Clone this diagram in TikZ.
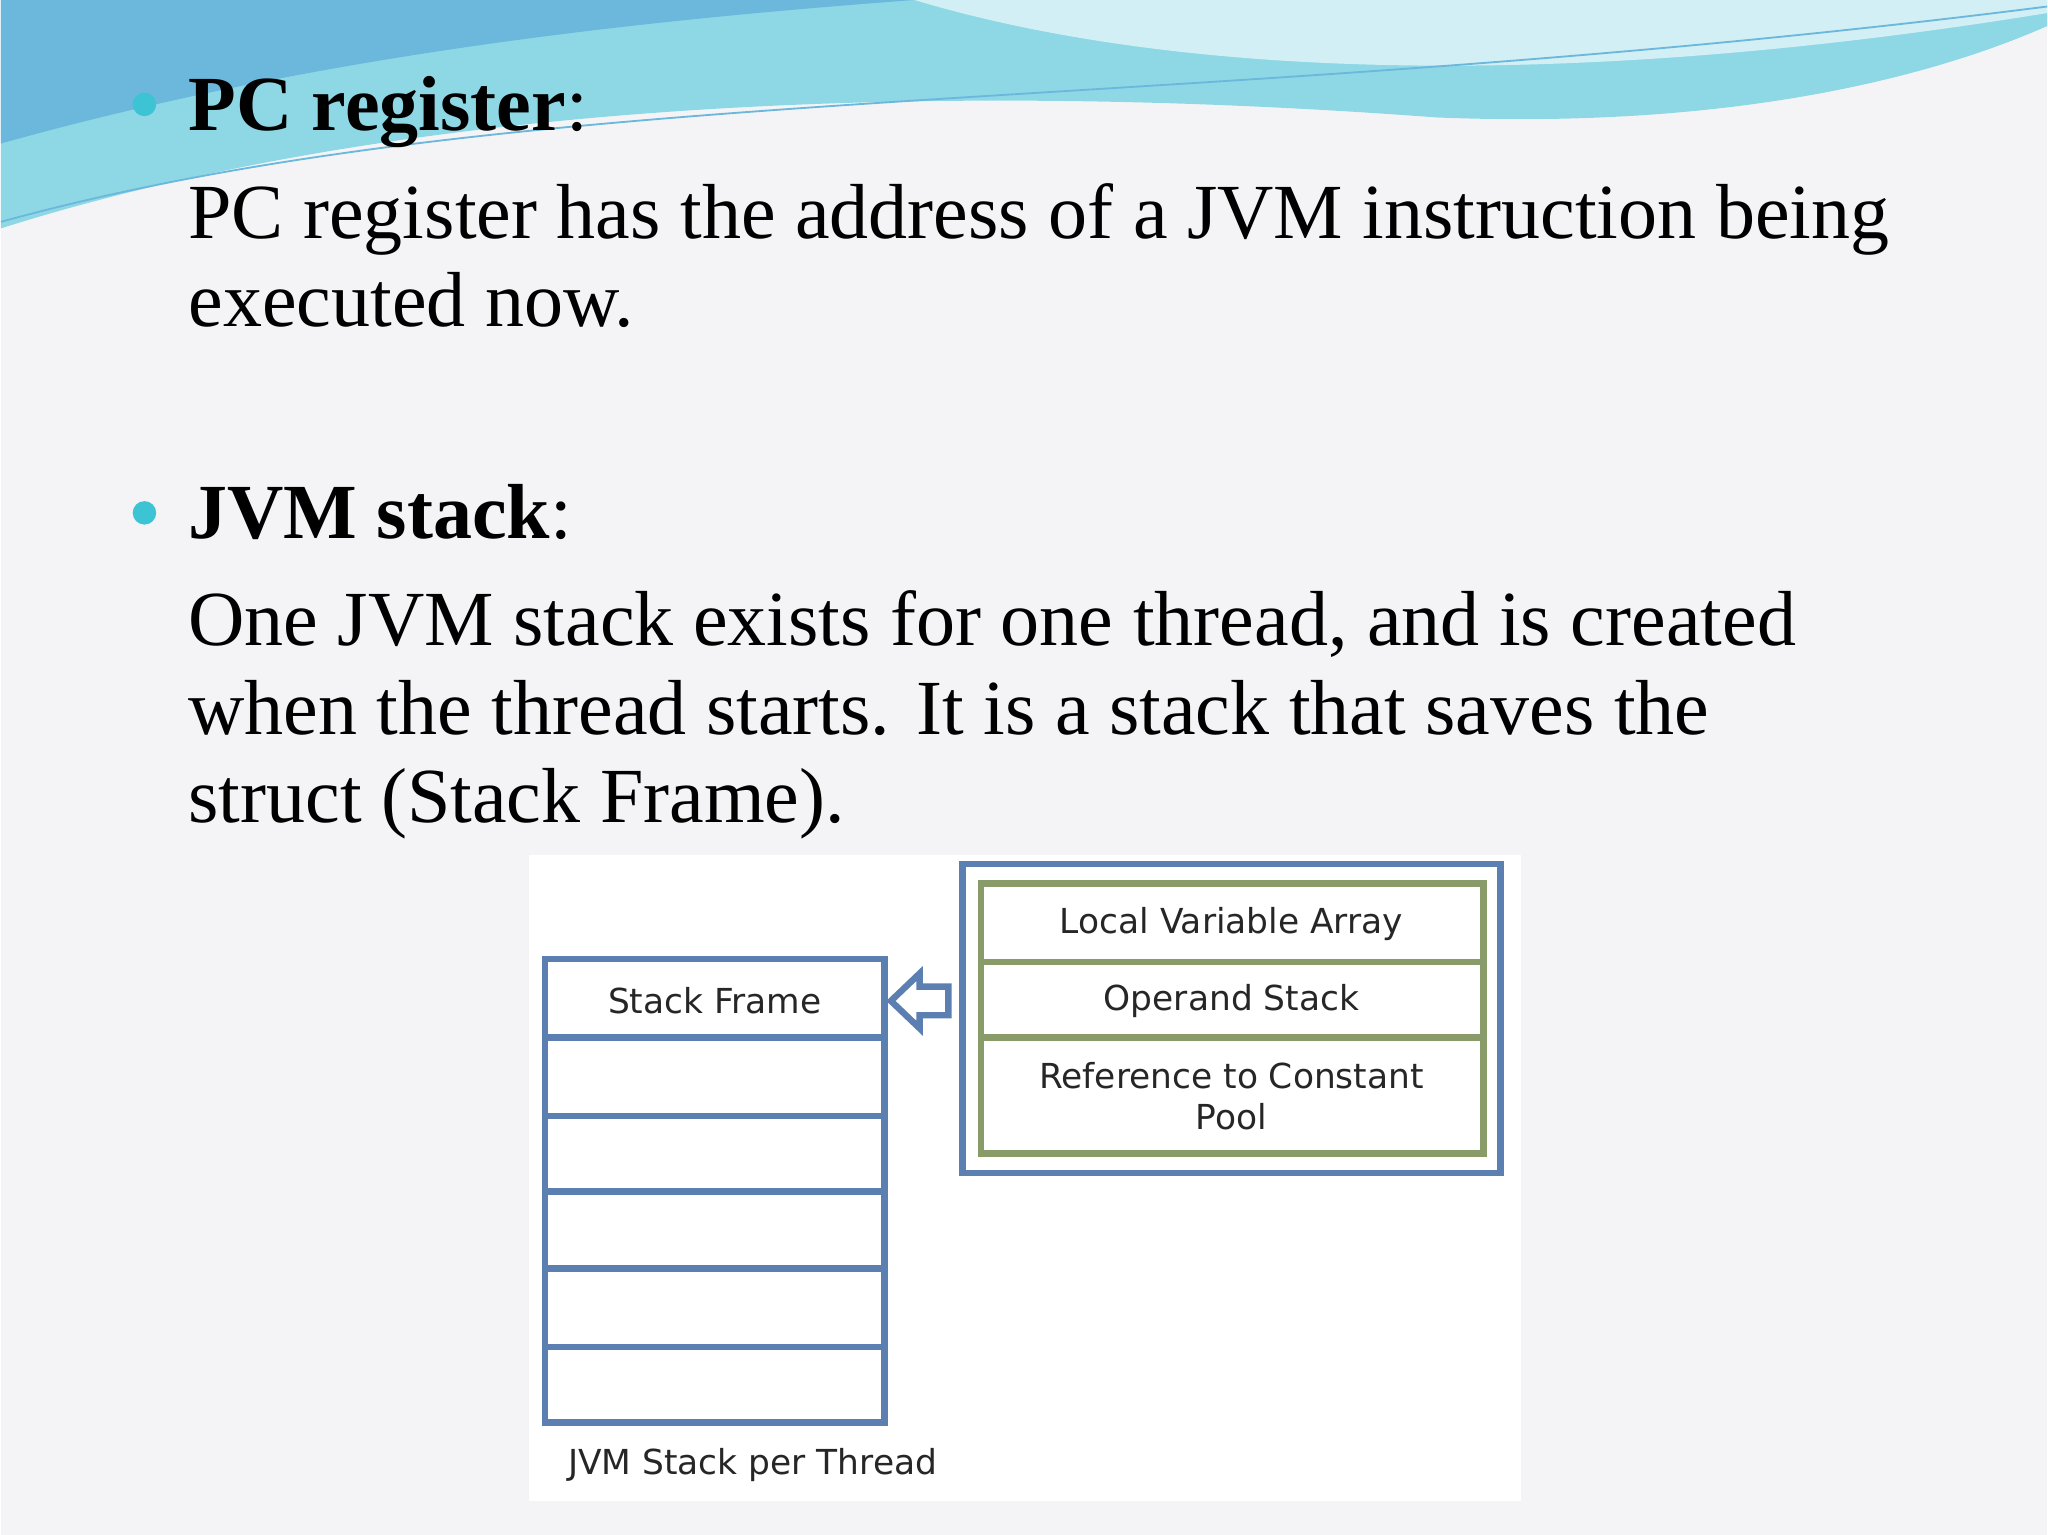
\documentclass[tikz,border=0pt]{standalone}
\usepackage{fontspec}
\setmainfont{Liberation Serif}
\setsansfont{DejaVu Sans}
\usetikzlibrary{positioning}
\definecolor{bg}{HTML}{F4F4F6}
\definecolor{wave}{HTML}{8ED8E6}
\definecolor{wavedark}{HTML}{6BB8DC}
\definecolor{bullet}{HTML}{3CC4D4}
\definecolor{stackblue}{HTML}{5B7FB0}
\definecolor{framegreen}{HTML}{8A9B6A}
\tikzset{
  slide/.style={anchor=base west,font=\fontsize{17}{20}\selectfont,inner sep=0},
  cell/.style={font=\sffamily\fontsize{7.5}{9}\selectfont,text=black!85},
  stackline/.style={draw=stackblue,line width=1.4pt},
  greenline/.style={draw=framegreen,line width=1.4pt}
}
\begin{document}
\begin{tikzpicture}[x=0.01cm,y=-0.01cm]
  \fill[bg] (0,0) rectangle (1568,1176);
  % top waves
  \fill[wave] (0,0) -- (0,175) .. controls (300,80) and (700,60) .. (1100,90)
     .. controls (1350,100) and (1500,50) .. (1568,20) -- (1568,0) -- cycle;
  \fill[wavedark] (0,0) -- (0,110) .. controls (250,40) and (500,15) .. (700,0) -- cycle;
  \fill[white,opacity=.6] (700,0) .. controls (900,60) and (1200,70) .. (1568,10) -- (1568,0) -- cycle;
  \draw[wavedark,thin] (0,170) .. controls (400,60) and (900,90) .. (1568,5);
  % bullets
  \fill[bullet] (110,80) circle (9);
  \fill[bullet] (110,393) circle (9);
  \node[slide] (t1) at (143,100) {\textbf{PC register}:};
  \node[slide] (t2) at (143,183) {PC register has the address of a JVM instruction being};
  \node[slide] (t3) at (143,250) {executed now.};
  \node[slide] (t4) at (143,413) {\textbf{JVM stack}:};
  \node[slide] (t5) at (143,495) {One JVM stack exists for one thread, and is created};
  \node[slide] (t6) at (143,563) {when the thread starts. It is a stack that saves the};
  \node[slide] (t7) at (143,630) {struct (Stack Frame).};
  % diagram
  \fill[white] (405,655) rectangle (1165,1150);
  \draw[stackline] (417,735) rectangle (677,1090);
  \foreach \y in {795,855,913,972,1032} {
    \draw[stackline] (417,\y) -- (677,\y);
  }
  \node[cell] (sf) at (547,767) {Stack Frame};
  \node[cell] (jvm) at (576,1123) {JVM Stack per Thread};
  \draw[stackline] (737,662) rectangle (1149,899);
  \draw[greenline] (751,677) rectangle (1136,884);
  \draw[greenline] (751,737) -- (1136,737);
  \draw[greenline] (751,795) -- (1136,795);
  \node[cell] (lva) at (943,708) {Local Variable Array};
  \node[cell] (ops) at (943,767) {Operand Stack};
  \node[cell,align=center] (ref) at (943,840) {Reference to Constant\\Pool};
  \draw[stackline,fill=white,line join=miter] (682,767) -- (704,746) -- (704,756) -- (726,756)
     -- (726,778) -- (704,778) -- (704,788) -- cycle;
\end{tikzpicture}
\end{document}
